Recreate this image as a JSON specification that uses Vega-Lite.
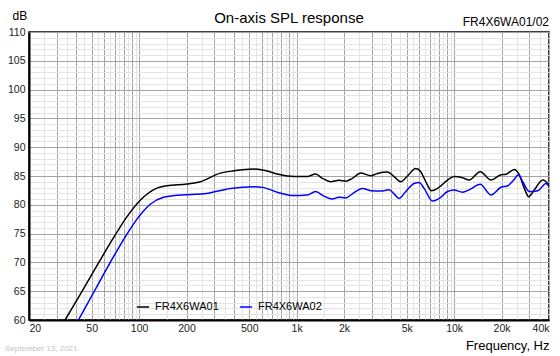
{
  "$schema": "https://vega.github.io/schema/vega-lite/v6.json",
  "width": 520,
  "height": 288,
  "autosize": {"type": "none"},
  "padding": {"left": 29, "top": 32, "right": 11, "bottom": 36},
  "background": "white",
  "config": {
    "font": "Liberation Sans",
    "view": {"stroke": "black", "strokeWidth": 1.5}
  },
  "datasets": {
    "spl": [
      {"series": "FR4X6WA01", "f": 33.9, "db": 60},
      {"series": "FR4X6WA01", "f": 43.5, "db": 65},
      {"series": "FR4X6WA01", "f": 55.5, "db": 70},
      {"series": "FR4X6WA01", "f": 68.5, "db": 74.2},
      {"series": "FR4X6WA01", "f": 83.6, "db": 77.9},
      {"series": "FR4X6WA01", "f": 101.7, "db": 80.8},
      {"series": "FR4X6WA01", "f": 129.8, "db": 82.9},
      {"series": "FR4X6WA01", "f": 150, "db": 83.3},
      {"series": "FR4X6WA01", "f": 201, "db": 83.6},
      {"series": "FR4X6WA01", "f": 245, "db": 84.0},
      {"series": "FR4X6WA01", "f": 328, "db": 85.5},
      {"series": "FR4X6WA01", "f": 399, "db": 85.9},
      {"series": "FR4X6WA01", "f": 535, "db": 86.2},
      {"series": "FR4X6WA01", "f": 619, "db": 86.0},
      {"series": "FR4X6WA01", "f": 753, "db": 85.35},
      {"series": "FR4X6WA01", "f": 790, "db": 85.2},
      {"series": "FR4X6WA01", "f": 960, "db": 84.9},
      {"series": "FR4X6WA01", "f": 1168, "db": 84.9},
      {"series": "FR4X6WA01", "f": 1319, "db": 85.35},
      {"series": "FR4X6WA01", "f": 1456, "db": 84.6},
      {"series": "FR4X6WA01", "f": 1643, "db": 84.0},
      {"series": "FR4X6WA01", "f": 1857, "db": 84.25},
      {"series": "FR4X6WA01", "f": 2047, "db": 84.1},
      {"series": "FR4X6WA01", "f": 2259, "db": 84.6},
      {"series": "FR4X6WA01", "f": 2551, "db": 85.5},
      {"series": "FR4X6WA01", "f": 2953, "db": 85.05},
      {"series": "FR4X6WA01", "f": 3258, "db": 85.45},
      {"series": "FR4X6WA01", "f": 3773, "db": 85.7},
      {"series": "FR4X6WA01", "f": 4155, "db": 84.9},
      {"series": "FR4X6WA01", "f": 4581, "db": 84.0},
      {"series": "FR4X6WA01", "f": 5055, "db": 85.0},
      {"series": "FR4X6WA01", "f": 5708, "db": 86.3},
      {"series": "FR4X6WA01", "f": 6139, "db": 85.75},
      {"series": "FR4X6WA01", "f": 6608, "db": 84.0},
      {"series": "FR4X6WA01", "f": 7180, "db": 82.45},
      {"series": "FR4X6WA01", "f": 7845, "db": 82.85},
      {"series": "FR4X6WA01", "f": 9082, "db": 84.3},
      {"series": "FR4X6WA01", "f": 10000, "db": 84.9},
      {"series": "FR4X6WA01", "f": 11310, "db": 84.7},
      {"series": "FR4X6WA01", "f": 12460, "db": 84.3},
      {"series": "FR4X6WA01", "f": 14640, "db": 85.75},
      {"series": "FR4X6WA01", "f": 17120, "db": 84.3},
      {"series": "FR4X6WA01", "f": 19820, "db": 85.2},
      {"series": "FR4X6WA01", "f": 21330, "db": 85.3},
      {"series": "FR4X6WA01", "f": 24100, "db": 86.15},
      {"series": "FR4X6WA01", "f": 25930, "db": 85.2},
      {"series": "FR4X6WA01", "f": 27890, "db": 82.85},
      {"series": "FR4X6WA01", "f": 29720, "db": 81.4},
      {"series": "FR4X6WA01", "f": 32290, "db": 82.6},
      {"series": "FR4X6WA01", "f": 36520, "db": 84.3},
      {"series": "FR4X6WA01", "f": 40000, "db": 83.5},
      {"series": "FR4X6WA02", "f": 41.2, "db": 60},
      {"series": "FR4X6WA02", "f": 52.0, "db": 65},
      {"series": "FR4X6WA02", "f": 65.6, "db": 70},
      {"series": "FR4X6WA02", "f": 81.5, "db": 74.4},
      {"series": "FR4X6WA02", "f": 97.5, "db": 77.6},
      {"series": "FR4X6WA02", "f": 117.7, "db": 80.1},
      {"series": "FR4X6WA02", "f": 143, "db": 81.3},
      {"series": "FR4X6WA02", "f": 182.6, "db": 81.7},
      {"series": "FR4X6WA02", "f": 257, "db": 81.9},
      {"series": "FR4X6WA02", "f": 380, "db": 82.85},
      {"series": "FR4X6WA02", "f": 535, "db": 83.15},
      {"series": "FR4X6WA02", "f": 619, "db": 82.98},
      {"series": "FR4X6WA02", "f": 771, "db": 82.1},
      {"series": "FR4X6WA02", "f": 960, "db": 81.6},
      {"series": "FR4X6WA02", "f": 1168, "db": 81.7},
      {"series": "FR4X6WA02", "f": 1319, "db": 82.3},
      {"series": "FR4X6WA02", "f": 1490, "db": 81.5},
      {"series": "FR4X6WA02", "f": 1685, "db": 81.0},
      {"series": "FR4X6WA02", "f": 1857, "db": 81.3},
      {"series": "FR4X6WA02", "f": 2047, "db": 81.2},
      {"series": "FR4X6WA02", "f": 2259, "db": 81.9},
      {"series": "FR4X6WA02", "f": 2615, "db": 82.85},
      {"series": "FR4X6WA02", "f": 2953, "db": 82.45},
      {"series": "FR4X6WA02", "f": 3419, "db": 82.4},
      {"series": "FR4X6WA02", "f": 3862, "db": 82.6},
      {"series": "FR4X6WA02", "f": 4155, "db": 81.9},
      {"series": "FR4X6WA02", "f": 4467, "db": 81.1},
      {"series": "FR4X6WA02", "f": 4931, "db": 82.3},
      {"series": "FR4X6WA02", "f": 5569, "db": 83.7},
      {"series": "FR4X6WA02", "f": 5991, "db": 83.85},
      {"series": "FR4X6WA02", "f": 6443, "db": 82.85},
      {"series": "FR4X6WA02", "f": 7292, "db": 80.65},
      {"series": "FR4X6WA02", "f": 8031, "db": 81.1},
      {"series": "FR4X6WA02", "f": 9082, "db": 82.3},
      {"series": "FR4X6WA02", "f": 10000, "db": 82.55},
      {"series": "FR4X6WA02", "f": 11310, "db": 82.2},
      {"series": "FR4X6WA02", "f": 12460, "db": 82.6},
      {"series": "FR4X6WA02", "f": 14640, "db": 83.55},
      {"series": "FR4X6WA02", "f": 17120, "db": 81.7},
      {"series": "FR4X6WA02", "f": 19820, "db": 83.05},
      {"series": "FR4X6WA02", "f": 21870, "db": 83.3},
      {"series": "FR4X6WA02", "f": 23880, "db": 84.3},
      {"series": "FR4X6WA02", "f": 25540, "db": 85.2},
      {"series": "FR4X6WA02", "f": 27240, "db": 84.0},
      {"series": "FR4X6WA02", "f": 30010, "db": 82.3},
      {"series": "FR4X6WA02", "f": 33950, "db": 82.45},
      {"series": "FR4X6WA02", "f": 38310, "db": 83.7},
      {"series": "FR4X6WA02", "f": 40000, "db": 83.15}
    ],
    "title": [
      {"label": "On-axis SPL response", "f": 894, "db": 110}
    ],
    "notes": [
      {"label": "FR4X6WA01/02", "f": 40000, "db": 110}
    ],
    "date": [
      {"label": "September 13, 2021", "f": 20, "db": 60}
    ]
  },
  "encoding": {
    "x": {
      "field": "f",
      "type": "quantitative",
      "scale": {"type": "log", "domain": [20, 40000], "nice": false},
      "axis": {
        "title": "Frequency, Hz",
        "titleFontSize": 13,
        "titleFontWeight": "normal",
        "titleColor": "#000",
        "titleAnchor": "end",
        "titleAlign": "right",
        "titlePadding": 6,
        "values": [20, 25, 30, 35, 40, 45, 50, 55, 60, 65, 70, 75, 80, 85, 90, 95, 100, 150, 200, 250, 300, 350, 400, 450, 500, 550, 600, 650, 700, 750, 800, 850, 900, 950, 1000, 1500, 2000, 2500, 3000, 3500, 4000, 4500, 5000, 5500, 6000, 6500, 7000, 7500, 8000, 8500, 9000, 9500, 10000, 15000, 20000, 25000, 30000, 35000, 40000],
        "labelExpr": "indexof([20,50,100,200,500,1000,2000,5000,10000,20000,40000], datum.value) >= 0 ? (datum.value >= 1000 ? (datum.value/1000) + 'k' : '' + datum.value) : ''",
        "labelOverlap": false,
        "labelFlush": true,
        "labelFontSize": 10.5,
        "labelColor": "#222",
        "labelPadding": 3,
        "ticks": false,
        "domainColor": "#000",
        "domainWidth": 2,
        "grid": true,
        "gridColor": {"condition": {"test": "(datum.value / pow(10, floor(log(datum.value) / LN10 + 1e-9))) % 1 != 0", "value": "#e4e4e4"}, "value": "#a4a4a4"},
        "gridWidth": 1
      }
    },
    "y": {
      "field": "db",
      "type": "quantitative",
      "scale": {"domain": [60, 110], "nice": false, "zero": false},
      "axis": {
        "title": "dB",
        "titleAngle": 0,
        "titleFontSize": 12,
        "titleFontWeight": "normal",
        "titleColor": "#000",
        "titleAlign": "left",
        "titleBaseline": "alphabetic",
        "titleX": -17,
        "titleY": -13,
        "values": [60, 61, 62, 63, 64, 65, 66, 67, 68, 69, 70, 71, 72, 73, 74, 75, 76, 77, 78, 79, 80, 81, 82, 83, 84, 85, 86, 87, 88, 89, 90, 91, 92, 93, 94, 95, 96, 97, 98, 99, 100, 101, 102, 103, 104, 105, 106, 107, 108, 109, 110],
        "labelExpr": "datum.value % 5 == 0 ? '' + datum.value : ''",
        "labelOverlap": false,
        "labelFontSize": 10.5,
        "labelColor": "#222",
        "labelPadding": 4,
        "ticks": false,
        "domainColor": "#000",
        "domainWidth": 2,
        "grid": true,
        "gridColor": {"condition": {"test": "datum.value % 5 != 0", "value": "#e4e4e4"}, "value": "#a4a4a4"},
        "gridWidth": 1
      }
    }
  },
  "layer": [
    {
      "data": {"name": "spl"},
      "mark": {"type": "line", "strokeWidth": 1.5, "interpolate": "monotone", "clip": true},
      "encoding": {
        "color": {
          "field": "series",
          "type": "nominal",
          "scale": {"domain": ["FR4X6WA01", "FR4X6WA02"], "range": ["#000000", "#0000ff"]},
          "legend": {
            "title": null,
            "orient": "none",
            "direction": "horizontal",
            "legendX": 107,
            "legendY": 268,
            "padding": 0,
            "symbolType": "stroke",
            "symbolSize": 150,
            "symbolStrokeWidth": 1.5,
            "labelFontSize": 11,
            "labelColor": "#000",
            "labelOffset": 5,
            "columnPadding": 17
          }
        }
      }
    },
    {
      "data": {"name": "title"},
      "mark": {"type": "text", "align": "center", "baseline": "alphabetic", "dy": -9, "fontSize": 15, "color": "#000"},
      "encoding": {
        "text": {"field": "label"}
      }
    },
    {
      "data": {"name": "notes"},
      "mark": {"type": "text", "align": "right", "baseline": "alphabetic", "dy": -6, "fontSize": 12, "color": "#000"},
      "encoding": {
        "text": {"field": "label"}
      }
    },
    {
      "data": {"name": "date"},
      "mark": {"type": "text", "align": "left", "baseline": "alphabetic", "dx": -24, "dy": 31, "fontSize": 8, "color": "#c4c4c4"},
      "encoding": {
        "text": {"field": "label"}
      }
    }
  ]
}
